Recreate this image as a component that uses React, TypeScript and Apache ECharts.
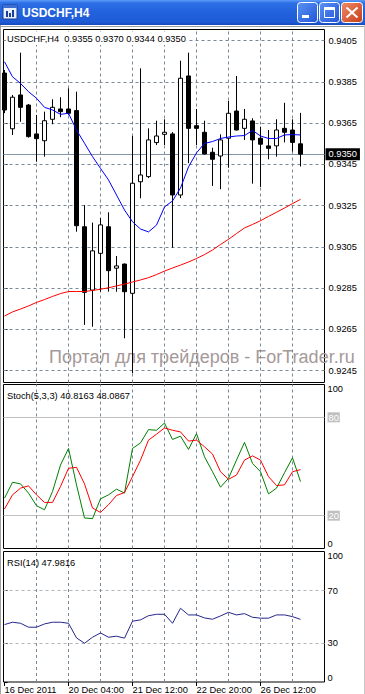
import React, { useEffect, useRef } from 'react';
import * as echarts from 'echarts';

const symbolName = 'USDCHF,H4';
const opens = [0.93893, 0.93623, 0.93787, 0.93738, 0.93598, 0.93565, 0.93669, 0.93719, 0.93719, 0.93711, 0.93148, 0.92841, 0.93019, 0.93148, 0.92947, 0.92967, 0.92825, 0.93366, 0.93391, 0.93556, 0.93596, 0.93598, 0.93302, 0.93879, 0.93638, 0.93606, 0.93509, 0.93491, 0.93577, 0.93709, 0.93625, 0.93661, 0.93577, 0.9354, 0.9354, 0.93625, 0.93617, 0.9355];
const highs = [0.93908, 0.93787, 0.93992, 0.93743, 0.9369, 0.93706, 0.93766, 0.93776, 0.93819, 0.93803, 0.93253, 0.93168, 0.9319, 0.93218, 0.93006, 0.9297, 0.93588, 0.93916, 0.93625, 0.93662, 0.93669, 0.93607, 0.93953, 0.93992, 0.93719, 0.93662, 0.93531, 0.93596, 0.93758, 0.93879, 0.93719, 0.93674, 0.93633, 0.93617, 0.93669, 0.93749, 0.93669, 0.937];
const lows = [0.93699, 0.93593, 0.93657, 0.9358, 0.93463, 0.93488, 0.93645, 0.93679, 0.9369, 0.93124, 0.92672, 0.92663, 0.92833, 0.92833, 0.92833, 0.92607, 0.92438, 0.93286, 0.93384, 0.93544, 0.93544, 0.93046, 0.93287, 0.93456, 0.93544, 0.93498, 0.93346, 0.9333, 0.93434, 0.93615, 0.93569, 0.93357, 0.93341, 0.93475, 0.93488, 0.93557, 0.93512, 0.9344];
const closes = [0.93714, 0.93776, 0.93727, 0.93585, 0.93575, 0.93662, 0.93727, 0.93706, 0.93698, 0.93153, 0.9283, 0.93031, 0.93157, 0.92935, 0.92958, 0.92833, 0.93359, 0.93399, 0.93569, 0.93588, 0.93606, 0.93302, 0.93868, 0.93625, 0.93625, 0.93501, 0.93475, 0.93569, 0.93698, 0.93617, 0.93669, 0.93569, 0.93548, 0.93528, 0.93617, 0.93606, 0.93557, 0.935];
const maFast = [0.93948, 0.93875, 0.93843, 0.93803, 0.93771, 0.93727, 0.93714, 0.93693, 0.93698, 0.93617, 0.93553, 0.93488, 0.93431, 0.93375, 0.93302, 0.93229, 0.93172, 0.93137, 0.93123, 0.93156, 0.93244, 0.93273, 0.93336, 0.93438, 0.93506, 0.93552, 0.93561, 0.93576, 0.93583, 0.93588, 0.9359, 0.93615, 0.93588, 0.93576, 0.93576, 0.93593, 0.93595, 0.93593];
const maSlow = [0.92715, 0.92735, 0.92749, 0.92764, 0.92781, 0.92795, 0.9281, 0.92824, 0.92834, 0.92834, 0.92834, 0.92839, 0.92845, 0.92852, 0.92861, 0.9287, 0.9288, 0.9289, 0.92901, 0.92916, 0.92933, 0.92948, 0.92962, 0.92977, 0.92994, 0.93013, 0.93035, 0.93062, 0.93087, 0.93115, 0.93142, 0.93159, 0.93177, 0.93198, 0.93218, 0.93239, 0.9326, 0.93281];
const stochMain = [30.7, 40.4, 39.4, 33.8, 26.1, 23.6, 34.7, 50.9, 61.0, 38.8, 18.6, 18.2, 30.3, 32.7, 36.2, 33.8, 61.0, 64.4, 72.5, 72.1, 76.5, 66.5, 68.5, 60.4, 70.1, 55.9, 46.8, 37.4, 42.8, 53.9, 64.7, 51.9, 46.8, 33.3, 36.8, 46.2, 55.3, 40.8163];
const stochSignal = [24.1, 32.7, 36.8, 38.2, 32.7, 28.1, 28.1, 37.8, 48.9, 49.5, 39.4, 24.7, 22.0, 26.7, 32.3, 34.1, 43.8, 53.9, 66.1, 69.7, 73.5, 72.1, 71.1, 65.5, 66.1, 62.0, 57.6, 46.8, 42.2, 44.8, 53.9, 56.5, 53.9, 43.8, 38.4, 38.8, 46.8, 48.0867];
const rsi = [44.0, 45.8, 45.0, 42.0, 42.0, 44.5, 45.8, 45.8, 45.0, 33.8, 29.7, 34.3, 37.6, 34.3, 35.1, 33.6, 46.6, 47.6, 50.8, 51.9, 51.9, 45.0, 56.5, 51.4, 51.4, 49.1, 48.1, 50.6, 53.4, 51.4, 52.4, 49.6, 48.9, 48.9, 51.4, 51.4, 50.1, 47.9816];
const priceTicks = [0.9245, 0.9265, 0.9285, 0.9305, 0.9325, 0.9345, 0.9365, 0.9385, 0.9405];
const timeTickIndex = [0, 8, 16, 24, 32];
const timeTickLabels = ['16 Dec 2011', '20 Dec 04:00', '21 Dec 12:00', '22 Dec 20:00', '26 Dec 12:00'];
const vGridIndex = [4, 8, 12, 16, 20, 24, 28, 32, 36];
const stochLevels = [20, 80];
const stochTicks = [0, 20, 80, 100];
const rsiLevels = [30, 70];
const rsiTicks = [0, 30, 70, 100];
const watermark = 'Портал для трейдеров - ForTrader.ru';

const F = '"Liberation Sans", Arial, sans-serif';
const FS = 9.3;
const GRID = '#778899';

export default function App() {
  const ref = useRef<HTMLDivElement>(null);
  useEffect(() => {
    if (!ref.current) return;
    const chart = echarts.init(ref.current, null, { renderer: 'svg' });
    const n = closes.length;
    const candleData = opens.map((o, i) => [i, o, closes[i], lows[i], highs[i]]);
    const last = n - 1;
    const header = `${symbolName}  ${opens[last].toFixed(4)} ${highs[last].toFixed(4)} ${lows[last].toFixed(4)} ${closes[last].toFixed(4)}`;
    const stochText = `Stoch(5,3,3) ${stochMain[last].toFixed(4)} ${stochSignal[last].toFixed(4)}`;
    const rsiText = `RSI(14) ${rsi[last].toFixed(4)}`;
    const vLines = vGridIndex.map((i) => ({ xAxis: i }));
    const dashed = { type: [3, 3], color: GRID, width: 1 };
    const xBase = (g: number) => ({
      type: 'value', gridIndex: g, min: -0.125, max: 40, show: g === 2,
      axisLine: { show: false },
      splitLine: { show: false },
      axisTick: { show: true, customValues: timeTickIndex, length: 4, lineStyle: { color: '#000' } },
      axisLabel: {
        customValues: timeTickIndex, align: 'left', margin: 3, color: '#000', fontSize: FS, fontFamily: F,
        formatter: (v: number) => timeTickLabels[timeTickIndex.indexOf(v)] ?? '',
      },
    });
    const yCommon = {
      type: 'value', position: 'right', axisLine: { show: false }, splitLine: { show: false },
    };
    const option: any = {
      animation: false,
      textStyle: { fontFamily: F },
      grid: [
        { left: 3.5, top: 29.5, width: 321, height: 353, show: true, borderColor: '#000', borderWidth: 1, backgroundColor: 'transparent' },
        { left: 3.5, top: 384.5, width: 321, height: 164, show: true, borderColor: '#000', borderWidth: 1, backgroundColor: 'transparent' },
        { left: 3.5, top: 551.5, width: 321, height: 132, show: true, borderColor: '#000', borderWidth: 1, backgroundColor: 'transparent' },
      ],
      xAxis: [xBase(0), xBase(1), xBase(2)],
      yAxis: [
        {
          ...yCommon, gridIndex: 0, min: 0.923928, max: 0.941043,
          axisTick: { show: true, customValues: priceTicks, length: 3, lineStyle: { color: '#000' } },
          axisLabel: { customValues: priceTicks, margin: 4, color: '#000', fontSize: FS, fontFamily: F, formatter: (v: number) => v.toFixed(4) },
        },
        {
          ...yCommon, gridIndex: 1, min: 0, max: 100,
          axisTick: { show: true, customValues: stochTicks, length: 3, lineStyle: { color: '#000' } },
          axisLabel: {
            customValues: stochTicks, margin: 3, color: '#000', fontSize: FS, fontFamily: F,
            verticalAlignMinLabel: 'bottom', verticalAlignMaxLabel: 'top',
            formatter: (v: number) => (stochLevels.includes(v) ? `{lv|${v}}` : `${v}`),
            rich: { lv: { backgroundColor: '#C0C0C0', color: '#fff', fontSize: FS, fontFamily: F, padding: [1, 1, 0, 1] } },
          },
        },
        {
          ...yCommon, gridIndex: 2, min: 0, max: 100,
          axisTick: { show: true, customValues: rsiTicks, length: 3, lineStyle: { color: '#000' } },
          axisLabel: {
            customValues: rsiTicks, margin: 3, color: '#000', fontSize: FS, fontFamily: F,
            verticalAlignMinLabel: 'bottom', verticalAlignMaxLabel: 'top',
            formatter: (v: number) => `${v}`,
          },
        },
      ],
      series: [
        {
          type: 'candlestick', xAxisIndex: 0, yAxisIndex: 0, data: candleData, barWidth: 5,
          itemStyle: { color: '#fff', color0: '#000', borderColor: '#000', borderColor0: '#000', borderWidth: 1 },
        },
        {
          type: 'line', xAxisIndex: 0, yAxisIndex: 0, data: maFast.map((v, i) => [i, v]),
          showSymbol: false, symbol: 'none', lineStyle: { color: '#0000FF', width: 1 }, z: 3,
        },
        {
          type: 'line', xAxisIndex: 0, yAxisIndex: 0, data: maSlow.map((v, i) => [i, v]),
          showSymbol: false, symbol: 'none', lineStyle: { color: '#FF0000', width: 1 }, z: 3,
          markLine: {
            silent: true, z: 1, precision: 6, symbol: ['none', 'none'], label: { show: false }, lineStyle: dashed,
            emphasis: { disabled: true },
            data: [
              ...priceTicks.map((v) => ({ yAxis: v })),
              ...vLines,
              {
                yAxis: closes[last],
                lineStyle: { type: 'solid', color: '#8796A5', width: 1 },
                label: {
                  show: true, position: 'end', distance: 1, formatter: closes[last].toFixed(4),
                  backgroundColor: '#000', color: '#fff', fontSize: FS, fontFamily: F, padding: [2, 3, 1, 3],
                },
              },
            ],
          },
        },
        {
          type: 'line', xAxisIndex: 1, yAxisIndex: 1, data: stochMain.map((v, i) => [i, v]),
          showSymbol: false, symbol: 'none', lineStyle: { color: '#008000', width: 1 },
          markLine: {
            silent: true, z: 1, precision: 6, symbol: ['none', 'none'], label: { show: false }, lineStyle: dashed,
            emphasis: { disabled: true },
            data: [
              ...stochLevels.map((v) => ({ yAxis: v, lineStyle: { type: 'solid', color: '#C0C0C0', width: 1 } })),
              ...vLines,
            ],
          },
        },
        {
          type: 'line', xAxisIndex: 1, yAxisIndex: 1, data: stochSignal.map((v, i) => [i, v]),
          showSymbol: false, symbol: 'none', lineStyle: { color: '#FF0000', width: 1 },
        },
        {
          type: 'line', xAxisIndex: 2, yAxisIndex: 2, data: rsi.map((v, i) => [i, v]),
          showSymbol: false, symbol: 'none', lineStyle: { color: '#25258F', width: 1 },
          markLine: {
            silent: true, z: 1, precision: 6, symbol: ['none', 'none'], label: { show: false }, lineStyle: dashed,
            emphasis: { disabled: true },
            data: [
              ...rsiLevels.map((v) => ({ yAxis: v, lineStyle: { type: [3, 3], color: '#B4B4B4', width: 1 } })),
              ...vLines,
            ],
          },
        },
      ],
      graphic: [
        { type: 'text', x: 49, y: 357, z: 0, silent: true, style: { text: watermark, font: `18px ${F}`, fill: '#A59999', verticalAlign: 'middle', align: 'left' } },
        { type: 'text', x: 6, y: 38.5, z: 50, silent: true, style: { text: header, font: `${FS}px ${F}`, fill: '#000', verticalAlign: 'middle', backgroundColor: '#fff', padding: [2, 1, 2, 1] } },
        { type: 'text', x: 7, y: 395.5, z: 50, silent: true, style: { text: stochText, font: `${FS}px ${F}`, fill: '#000', verticalAlign: 'middle' } },
        { type: 'text', x: 7, y: 563, z: 50, silent: true, style: { text: rsiText, font: `${FS}px ${F}`, fill: '#000', verticalAlign: 'middle' } },
        // window frame
        { type: 'line', z: 60, silent: true, shape: { x1: 0, y1: 26.5, x2: 365, y2: 26.5 }, style: { stroke: '#A0A0A0', lineWidth: 1 } },
        { type: 'line', z: 60, silent: true, shape: { x1: 0.5, y1: 25, x2: 0.5, y2: 694 }, style: { stroke: '#A0A0A0', lineWidth: 1 } },
        { type: 'line', z: 60, silent: true, shape: { x1: 364.5, y1: 25, x2: 364.5, y2: 694 }, style: { stroke: '#C8C8C8', lineWidth: 1 } },
        // title bar
        {
          type: 'rect', z: 100, silent: true, shape: { x: 0, y: 0, width: 365, height: 25 },
          style: {
            fill: {
              type: 'linear', x: 0, y: 0, x2: 0, y2: 1,
              colorStops: [
                { offset: 0, color: '#5C9CFA' }, { offset: 0.12, color: '#2D6FE6' }, { offset: 0.5, color: '#2262DC' },
                { offset: 0.88, color: '#1E5CD6' }, { offset: 1, color: '#1648BE' },
              ],
            },
          },
        },
        // icon
        { type: 'rect', z: 101, silent: true, shape: { x: 3, y: 5, width: 14, height: 14 }, style: { fill: '#E8F0FF', stroke: '#1B3F94', lineWidth: 1 } },
        { type: 'rect', z: 102, silent: true, shape: { x: 3, y: 5, width: 14, height: 3 }, style: { fill: '#3D6FD0' } },
        { type: 'rect', z: 102, silent: true, shape: { x: 6, y: 11, width: 2, height: 6 }, style: { fill: '#1B3F94' } },
        { type: 'rect', z: 102, silent: true, shape: { x: 9, y: 13, width: 2, height: 4 }, style: { fill: '#1B3F94' } },
        { type: 'rect', z: 102, silent: true, shape: { x: 12, y: 10, width: 2, height: 7 }, style: { fill: '#1B3F94' } },
        { type: 'text', z: 101, silent: true, x: 22, y: 13, style: { text: symbolName, font: `bold 12px ${F}`, fill: '#fff', verticalAlign: 'middle' } },
        // buttons
        {
          type: 'rect', z: 101, silent: true, shape: { x: 297.5, y: 2.5, width: 20, height: 20, r: 3 },
          style: { fill: { type: 'linear', x: 0, y: 0, x2: 1, y2: 1, colorStops: [{ offset: 0, color: '#5A93F5' }, { offset: 1, color: '#2255D8' }] }, stroke: '#fff', lineWidth: 1 },
        },
        { type: 'rect', z: 102, silent: true, shape: { x: 302, y: 15, width: 7, height: 3 }, style: { fill: '#fff' } },
        {
          type: 'rect', z: 101, silent: true, shape: { x: 319.5, y: 2.5, width: 20, height: 20, r: 3 },
          style: { fill: { type: 'linear', x: 0, y: 0, x2: 1, y2: 1, colorStops: [{ offset: 0, color: '#5A93F5' }, { offset: 1, color: '#2255D8' }] }, stroke: '#fff', lineWidth: 1 },
        },
        { type: 'rect', z: 102, silent: true, shape: { x: 324.5, y: 7.5, width: 10, height: 10 }, style: { fill: 'none', stroke: '#fff', lineWidth: 1 } },
        { type: 'rect', z: 102, silent: true, shape: { x: 324.5, y: 7, width: 10, height: 3 }, style: { fill: '#fff' } },
        {
          type: 'rect', z: 101, silent: true, shape: { x: 341.5, y: 2.5, width: 21, height: 20, r: 3 },
          style: { fill: { type: 'linear', x: 0, y: 0, x2: 1, y2: 1, colorStops: [{ offset: 0, color: '#F08A66' }, { offset: 1, color: '#C83C18' }] }, stroke: '#fff', lineWidth: 1 },
        },
        { type: 'line', z: 102, silent: true, shape: { x1: 346.5, y1: 7.5, x2: 357.5, y2: 17.5 }, style: { stroke: '#fff', lineWidth: 2 } },
        { type: 'line', z: 102, silent: true, shape: { x1: 357.5, y1: 7.5, x2: 346.5, y2: 17.5 }, style: { stroke: '#fff', lineWidth: 2 } },
      ],
    };
    chart.setOption(option);
    return () => chart.dispose();
  }, []);
  return <div ref={ref} style={{ position: 'absolute', left: 0, top: 0, width: 365, height: 694, background: '#fff' }} />;
}
